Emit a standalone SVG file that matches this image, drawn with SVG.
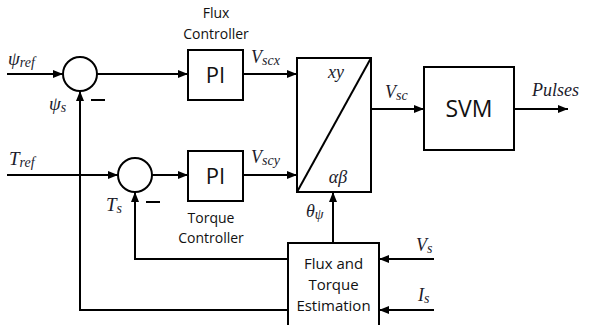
<svg xmlns="http://www.w3.org/2000/svg" width="592" height="325" viewBox="0 0 592 325">
<style>
.ln{stroke:#000;stroke-width:2;fill:none}
.bx{stroke:#000;stroke-width:2;fill:#fff}
.m{font-family:"Liberation Serif",serif;font-style:italic;fill:#1b1b2b}
.t{font-family:"Open Sans","Liberation Sans",sans-serif;fill:#111}
</style>
<defs>
<marker id="ah" viewBox="0 0 10 8" refX="10" refY="4" markerWidth="10" markerHeight="8" markerUnits="userSpaceOnUse" orient="auto">
<path d="M0,0 L10,4 L0,8 Z" fill="#000"/>
</marker>
</defs>
<g id="connectors">
<line class="ln" x1="7" y1="74" x2="63" y2="74" marker-end="url(#ah)"/>
<line class="ln" x1="97" y1="74" x2="188" y2="74" marker-end="url(#ah)"/>
<line class="ln" x1="243" y1="74" x2="297" y2="74" marker-end="url(#ah)"/>
<line class="ln" x1="7" y1="175" x2="118" y2="175" marker-end="url(#ah)"/>
<line class="ln" x1="152" y1="175" x2="188" y2="175" marker-end="url(#ah)"/>
<line class="ln" x1="243" y1="175" x2="297" y2="175" marker-end="url(#ah)"/>
<line class="ln" x1="371" y1="109" x2="424" y2="109" marker-end="url(#ah)"/>
<line class="ln" x1="514" y1="109" x2="568" y2="109" marker-end="url(#ah)"/>
<line class="ln" x1="333" y1="243" x2="333" y2="192" marker-end="url(#ah)"/>
<line class="ln" x1="434" y1="259" x2="379" y2="259" marker-end="url(#ah)"/>
<line class="ln" x1="434" y1="310" x2="379" y2="310" marker-end="url(#ah)"/>
<polyline class="ln" points="288,259 135,259 135,192" marker-end="url(#ah)"/>
<polyline class="ln" points="288,310 80,310 80,91" marker-end="url(#ah)"/>
</g>
<g id="sum1"><circle class="bx" cx="80" cy="74" r="17"/></g>
<g id="sum2"><circle class="bx" cx="135" cy="175" r="17"/></g>
<g id="pi1"><rect class="bx" x="188" y="50" width="55" height="50"/><text class="t" x="215.5" y="83" font-size="22" text-anchor="middle">PI</text></g>
<g id="pi2"><rect class="bx" x="188" y="151" width="55" height="50"/><text class="t" x="215.5" y="184" font-size="22" text-anchor="middle">PI</text></g>
<g id="transform"><rect class="bx" x="297" y="58" width="74" height="134"/><line class="ln" x1="297" y1="192" x2="371" y2="58"/>
<text class="m" x="336" y="78" font-size="18" text-anchor="middle">xy</text>
<text class="m" x="338" y="183" font-size="18" text-anchor="middle">αβ</text></g>
<g id="svm"><rect class="bx" x="424" y="67" width="90" height="83"/><text class="t" x="469" y="117" font-size="23" text-anchor="middle">SVM</text></g>
<g id="est"><rect class="bx" x="288" y="243" width="91" height="90"/>
<text class="t" x="333.5" y="269" font-size="15" text-anchor="middle">Flux and</text>
<text class="t" x="333.5" y="290" font-size="15" text-anchor="middle">Torque</text>
<text class="t" x="333.5" y="311" font-size="15" text-anchor="middle">Estimation</text></g>
<g id="labels">
<text class="t" x="216" y="18" font-size="14" text-anchor="middle">Flux</text>
<text class="t" x="216" y="39" font-size="14" text-anchor="middle">Controller</text>
<text class="t" x="211" y="223" font-size="14" text-anchor="middle">Torque</text>
<text class="t" x="211" y="243" font-size="14" text-anchor="middle">Controller</text>
<text class="m" x="8" y="65" font-size="19">ψ<tspan font-size="14" dy="2">ref</tspan></text>
<text class="m" x="49" y="110" font-size="19">ψ<tspan font-size="14" dy="2">s</tspan></text>
<text class="m" x="9" y="165" font-size="19">T<tspan font-size="14" dy="2">ref</tspan></text>
<text class="m" x="106" y="211" font-size="19">T<tspan font-size="14" dy="2">s</tspan></text>
<line class="ln" x1="91" y1="100" x2="105" y2="100"/>
<line class="ln" x1="146" y1="202" x2="160" y2="202"/>
<text class="m" x="251" y="63" font-size="18">V<tspan font-size="14" dy="2">scx</tspan></text>
<text class="m" x="251" y="163" font-size="18">V<tspan font-size="14" dy="2">scy</tspan></text>
<text class="m" x="385" y="98" font-size="18">V<tspan font-size="14" dy="2">sc</tspan></text>
<text class="m" x="532" y="96" font-size="18">Pulses</text>
<text class="m" x="306" y="217" font-size="18">θ<tspan font-size="14" dy="2">ψ</tspan></text>
<text class="m" x="416" y="251" font-size="18">V<tspan font-size="14" dy="2">s</tspan></text>
<text class="m" x="418" y="301" font-size="18">I<tspan font-size="14" dy="2">s</tspan></text>
</g>
</svg>
